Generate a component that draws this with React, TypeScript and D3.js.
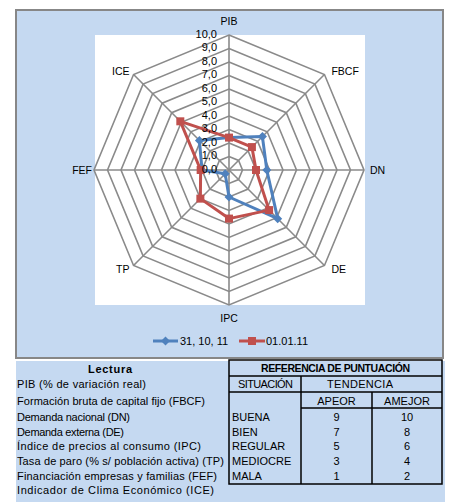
import React from "react";
import * as d3 from "d3";

const categories = ["PIB", "FBCF", "DN", "DE", "IPC", "TP", "FEF", "ICE"];
const seriesNames = ["31, 10, 11", "01.01.11"];
const seriesBlue = [2.4, 3.5, 2.8, 5.1, 2.0, 0.4, 2.0, 3.1];
const seriesRed = [2.4, 2.4, 2.0, 4.2, 3.6, 3.0, 2.1, 5.1];
const tickValues = [0, 1, 2, 3, 4, 5, 6, 7, 8, 9, 10];

const lecturaTitle = "Lectura";
const lecturaRows = [
  "PIB (% de variación real)",
  "Formación bruta de capital fijo (FBCF)",
  "Demanda nacional (DN)",
  "Demanda externa (DE)",
  "Índice de precios al consumo (IPC)",
  "Tasa de paro (% s/ población activa) (TP)",
  "Financiación empresas y familias (FEF)",
  "Indicador de Clima Económico (ICE)",
];
const refTitle = "REFERENCIA DE PUNTUACIÓN";
const situacionHeader = "SITUACIÓN";
const tendenciaHeader = "TENDENCIA";
const tendenciaCols = ["APEOR", "AMEJOR"];
const situaciones = ["BUENA", "BIEN", "REGULAR", "MEDIOCRE", "MALA"];
const apeorValues = [9, 7, 5, 3, 1];
const amejorValues = [10, 8, 6, 4, 2];

const W = 462;
const H = 502;
const BG = "#C5D9F1";
const BLUE = "#4F81BD";
const RED = "#C0504D";
const GRID = "#8a8a8a";
const FONT = "'Liberation Sans', Arial, sans-serif";

export default function App() {
  const cx = 229;
  const cy = 170;
  const R = 135;
  const r = d3.scaleLinear().domain([0, 10]).range([0, R]);
  const n = categories.length;
  const angle = d3
    .scaleLinear()
    .domain([0, n])
    .range([0, 2 * Math.PI]);
  const pt = (i: number, v: number): [number, number] => {
    const a = angle(i);
    return [cx + r(v) * Math.sin(a), cy - r(v) * Math.cos(a)];
  };
  const line = d3
    .line<number>()
    .x((v, i) => pt(i, v)[0])
    .y((v, i) => pt(i, v)[1])
    .curve(d3.curveLinearClosed);

  const ringPath = (lv: number) =>
    line(categories.map(() => lv)) as string;

  const labelPos = (i: number) => {
    const a = angle(i);
    const s = Math.sin(a);
    const c = Math.cos(a);
    const [vx, vy] = pt(i, 10);
    let anchor = "middle";
    let x = vx;
    let y = vy;
    if (s > 0.1) {
      anchor = "start";
      x = vx + (Math.abs(c) > 0.1 ? 7 : 6);
      y = vy + (Math.abs(c) > 0.1 ? (c > 0 ? -3 : 3.5) : 0);
    } else if (s < -0.1) {
      anchor = "end";
      x = vx - (Math.abs(c) > 0.1 ? 4 : 2);
      y = vy + (Math.abs(c) > 0.1 ? (c > 0 ? -3 : 3.5) : 0);
    } else {
      y = c > 0 ? vy - 14 : vy + 13;
    }
    return { x, y, anchor };
  };

  const series = [
    { name: seriesNames[0], values: seriesBlue, color: BLUE, marker: "diamond" },
    { name: seriesNames[1], values: seriesRed, color: RED, marker: "square" },
  ];

  const marker = (kind: string, x: number, y: number, color: string, key: string) =>
    kind === "diamond" ? (
      <path
        key={key}
        d={`M${x},${y - 4.5}L${x + 4.5},${y}L${x},${y + 4.5}L${x - 4.5},${y}Z`}
        fill={color}
      />
    ) : (
      <rect key={key} x={x - 4} y={y - 4} width={8} height={8} fill={color} />
    );

  // table geometry
  const tLeft = 229;
  const c1 = 301;
  const c2 = 372;
  const tRight = 442;
  const rowLines = [360, 376, 392, 408];
  const dataRowY = d3
    .scaleLinear()
    .domain([0, 4])
    .range([417, 476]);
  const tBottom = 484;
  const lecturaY = [384, 401, 417, 431.7, 445.7, 461, 475.7, 490];
  const lecturaWidths = [129, 188, 113, 107, 184, 207, 200, 197];

  return (
    <svg
      width={W}
      height={H}
      style={{ position: "absolute", left: 0, top: 0, background: "#fff" }}
      fontFamily={FONT}
    >
      {/* chart area */}
      <rect x={16} y={10} width={427} height={348} fill={BG} stroke="#878787" strokeWidth={2} />
      <rect x={95} y={35} width={270} height={270} fill="#fff" />

      {/* grid */}
      {tickValues.slice(1).map((lv) => (
        <path key={lv} d={ringPath(lv)} fill="none" stroke={GRID} strokeWidth={1.6} />
      ))}
      {categories.map((c, i) => {
        const [x, y] = pt(i, 10);
        return <line key={c} x1={cx} y1={cy} x2={x} y2={y} stroke={GRID} strokeWidth={1.6} />;
      })}

      {/* series */}
      {series.map((s) => (
        <g key={s.name}>
          <path d={line(s.values) as string} fill="none" stroke={s.color} strokeWidth={3} strokeLinejoin="round" />
          {s.values.map((v, i) => {
            const [x, y] = pt(i, v);
            return marker(s.marker, x, y, s.color, s.name + i);
          })}
        </g>
      ))}

      {/* tick labels */}
      {tickValues.map((t) => (
        <text
          key={t}
          x={cx - 12}
          y={cy - r(t) - 1}
          dy="0.35em"
          textAnchor="end"
          fontSize={11}
          fill="#000"
        >
          {d3.format(".1f")(t).replace(".", ",")}
        </text>
      ))}

      {/* category labels */}
      {categories.map((c, i) => {
        const p = labelPos(i);
        return (
          <text key={c} x={p.x} y={p.y} dy="0.35em" textAnchor={p.anchor as any} fontSize={10.5} fill="#000">
            {c}
          </text>
        );
      })}

      {/* legend */}
      <g>
        <line x1={153} y1={341} x2={178} y2={341} stroke={BLUE} strokeWidth={3} />
        {marker("diamond", 165.5, 341, BLUE, "lb")}
        <text x={180} y={341} dy="0.35em" fontSize={11}>{seriesNames[0]}</text>
        <line x1={239} y1={341} x2={265} y2={341} stroke={RED} strokeWidth={3} />
        {marker("square", 252, 341, RED, "lr")}
        <text x={266} y={341} dy="0.35em" fontSize={11}>{seriesNames[1]}</text>
      </g>

      {/* lower region */}
      <rect x={16} y={361} width={429} height={141} fill={BG} />
      <text x={110} y={369} dy="0.35em" textAnchor="middle" fontSize={11} fontWeight="bold" textLength={44} lengthAdjust="spacing">
        {lecturaTitle}
      </text>
      {lecturaRows.map((t, i) => (
        <text key={t} x={17} y={lecturaY[i]} dy="0.35em" fontSize={11} textLength={lecturaWidths[i]} lengthAdjust="spacing">
          {t}
        </text>
      ))}

      {/* reference table */}
      <g stroke="#000" strokeWidth={1.5} fill="none">
        <rect x={tLeft} y={rowLines[0]} width={tRight - tLeft} height={tBottom - rowLines[0]} />
        <line x1={tLeft} y1={rowLines[1]} x2={tRight} y2={rowLines[1]} />
        <line x1={tLeft} y1={rowLines[2]} x2={tRight} y2={rowLines[2]} />
        <line x1={c1} y1={rowLines[3]} x2={tRight} y2={rowLines[3]} />
        <line x1={c1} y1={rowLines[1]} x2={c1} y2={tBottom} />
        <line x1={c2} y1={rowLines[2]} x2={c2} y2={tBottom} />
      </g>
      <text x={(tLeft + tRight) / 2} y={368} dy="0.35em" textAnchor="middle" fontSize={10.5} fontWeight="bold" textLength={149} lengthAdjust="spacing">
        {refTitle}
      </text>
      <text x={265.5} y={384} dy="0.35em" textAnchor="middle" fontSize={11} textLength={55} lengthAdjust="spacing">
        {situacionHeader}
      </text>
      <text x={360} y={384} dy="0.35em" textAnchor="middle" fontSize={11} textLength={66} lengthAdjust="spacing">
        {tendenciaHeader}
      </text>
      <text x={336.5} y={401} dy="0.35em" textAnchor="middle" fontSize={11}>{tendenciaCols[0]}</text>
      <text x={407} y={401} dy="0.35em" textAnchor="middle" fontSize={11}>{tendenciaCols[1]}</text>
      {situaciones.map((s, i) => (
        <g key={s}>
          <text x={232} y={dataRowY(i)} dy="0.35em" fontSize={11}>{s}</text>
          <text x={336.5} y={dataRowY(i)} dy="0.35em" textAnchor="middle" fontSize={11}>{apeorValues[i]}</text>
          <text x={407} y={dataRowY(i)} dy="0.35em" textAnchor="middle" fontSize={11}>{amejorValues[i]}</text>
        </g>
      ))}
    </svg>
  );
}
